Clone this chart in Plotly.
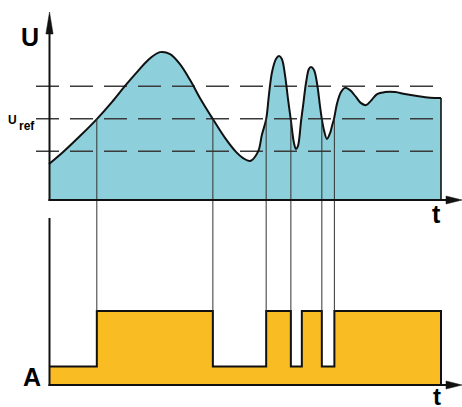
import plotly.graph_objects as go

# ---------------- data ----------------
t_curve = [0.0, 0.36, 0.79, 1.22, 1.61, 1.94, 2.25, 2.53, 2.83, 3.09, 3.34, 3.60, 3.85,
           4.18, 4.49, 4.77, 4.95, 5.13, 5.33, 5.43, 5.54, 5.61, 5.69, 5.79, 5.87, 5.94,
           6.02, 6.10, 6.17, 6.25, 6.30, 6.35, 6.43, 6.48, 6.56, 6.63, 6.68, 6.76, 6.84,
           6.91, 6.96, 7.02, 7.09, 7.17, 7.22, 7.27, 7.35, 7.45, 7.55, 7.68, 7.83, 7.96,
           8.09, 8.21, 8.37, 8.57, 8.83, 9.08, 9.39, 9.72, 10.0]
u_curve = [1.11, 1.48, 1.97, 2.49, 3.02, 3.51, 3.94, 4.31, 4.55, 4.49, 4.18, 3.69, 3.14,
           2.49, 1.91, 1.48, 1.29, 1.20, 1.48, 2.00, 2.49, 3.23, 3.94, 4.34, 4.43, 4.34,
           3.85, 3.08, 2.46, 1.75, 1.57, 1.66, 2.43, 2.89, 3.63, 4.03, 4.09, 4.00, 3.57,
           2.92, 2.49, 2.12, 1.88, 2.06, 2.28, 2.49, 2.98, 3.32, 3.45, 3.38, 3.17, 2.98,
           2.92, 3.05, 3.26, 3.32, 3.32, 3.26, 3.20, 3.15, 3.14]
u_levels = [1.5, 2.5, 3.5]
u_ref = 2.5
switch_times = [1.22, 4.18, 5.54, 6.17, 6.45, 6.96, 7.28]
a_values = [0.25, 1.0, 0.25, 1.0, 0.25, 1.0, 0.25, 1.0]
connector_times = [1.22, 4.18, 5.54, 6.17, 6.96, 7.28]
t_end = 10.0
a_high = 1.0

# ---------------- geometry / style ----------------
W, H = 462, 407
PX_T0, PX_PER_T = 49, 39.2
PX_U0, PX_PER_U = 200, 32.5
PX_A0, PX_PER_A = 385, 74
TOP_DOM_PX = (10, 206)
BOT_DOM_PX = (212, 391)
BLUE = "#8DCFDA"
YELLOW = "#F9BD23"
INK = "#111111"

def pxx(px):
    return px / W

def pxy(py):
    return 1 - py / H

def t2px(t):
    return PX_T0 + t * PX_PER_T

def u2py(u):
    return PX_U0 - u * PX_PER_U

def a2py(a):
    return PX_A0 - a * PX_PER_A

fig = go.Figure()

# top panel: fill
fig.add_trace(go.Scatter(x=t_curve, y=u_curve, mode="lines", line=dict(shape="spline", width=0, color=BLUE),
                         fill="tozeroy", fillcolor=BLUE, hoverinfo="skip", showlegend=False,
                         xaxis="x", yaxis="y"))
# dashed threshold lines
t_dash_start = (36 - PX_T0) / PX_PER_T
for lv in u_levels:
    fig.add_trace(go.Scatter(x=[t_dash_start, t_end], y=[lv, lv], mode="lines",
                             line=dict(color="#3a3a3a", width=1.5, dash="23px,11px"),
                             hoverinfo="skip", showlegend=False, xaxis="x", yaxis="y"))
# curve outline
fig.add_trace(go.Scatter(x=t_curve, y=u_curve, mode="lines", line=dict(shape="spline", width=2, color=INK),
                         hoverinfo="skip", showlegend=False, xaxis="x", yaxis="y"))
fig.add_trace(go.Scatter(x=[t_end, t_end], y=[u_curve[-1], 0], mode="lines", line=dict(width=1.6, color=INK),
                         hoverinfo="skip", showlegend=False, xaxis="x", yaxis="y"))

# bottom panel: step
step_x = [0.0] + switch_times + [t_end, t_end]
step_y = a_values + [a_values[-1], 0]
fig.add_trace(go.Scatter(x=step_x, y=step_y, mode="lines", line=dict(shape="hv", width=2, color=INK),
                         fill="tozeroy", fillcolor=YELLOW, hoverinfo="skip", showlegend=False,
                         xaxis="x2", yaxis="y2"))

shapes = []
# connectors
for tc in connector_times:
    shapes.append(dict(type="line", xref="x", yref="paper", x0=tc, x1=tc,
                       y0=pxy(u2py(u_ref)), y1=pxy(a2py(a_high)),
                       line=dict(color="#333333", width=1), layer="above"))

x_axis_px = t2px(0) + 0.5
# top y axis line + arrow
shapes.append(dict(type="line", xref="paper", yref="paper", x0=pxx(x_axis_px), x1=pxx(x_axis_px),
                   y0=pxy(u2py(0) + 1), y1=pxy(30), line=dict(color=INK, width=2)))
shapes.append(dict(type="path", xref="paper", yref="paper",
                   path=f"M {pxx(x_axis_px)} {pxy(12)} L {pxx(x_axis_px - 3.6)} {pxy(34)} "
                        f"L {pxx(x_axis_px + 3.6)} {pxy(34)} Z",
                   fillcolor=INK, line=dict(color=INK, width=0.5)))
# top x axis line + arrow
yb = u2py(0)
shapes.append(dict(type="line", xref="paper", yref="paper", x0=pxx(x_axis_px - 1), x1=pxx(449),
                   y0=pxy(yb), y1=pxy(yb), line=dict(color=INK, width=2)))
shapes.append(dict(type="path", xref="paper", yref="paper",
                   path=f"M {pxx(462)} {pxy(yb)} L {pxx(446)} {pxy(yb - 4)} L {pxx(446)} {pxy(yb + 4)} Z",
                   fillcolor=INK, line=dict(color=INK, width=0.5)))
# bottom y axis line
ya = a2py(0)
shapes.append(dict(type="line", xref="paper", yref="paper", x0=pxx(x_axis_px), x1=pxx(x_axis_px),
                   y0=pxy(ya + 1), y1=pxy(218), line=dict(color=INK, width=2)))
# bottom x axis line + arrow
shapes.append(dict(type="line", xref="paper", yref="paper", x0=pxx(x_axis_px - 1), x1=pxx(449),
                   y0=pxy(ya), y1=pxy(ya), line=dict(color=INK, width=2)))
shapes.append(dict(type="path", xref="paper", yref="paper",
                   path=f"M {pxx(462)} {pxy(ya)} L {pxx(446)} {pxy(ya - 4)} L {pxx(446)} {pxy(ya + 4)} Z",
                   fillcolor=INK, line=dict(color=INK, width=0.5)))

FONT = "Liberation Sans, Arial, sans-serif"
def label(text, px, py, size):
    return dict(text=f"<b>{text}</b>", x=pxx(px), y=pxy(py), xref="paper", yref="paper",
                xanchor="center", yanchor="middle", showarrow=False,
                font=dict(family=FONT, size=size, color="#000000"))

annotations = [
    label("U", 29.7, 36.5, 25),
    label("A", 32, 377, 25),
    label("t", 436.5, 214, 25),
    label("t", 436.5, 396, 24),
    label("U", 12.5, 120.5, 12),
    label("ref", 27, 125.5, 12),
]

fig.update_layout(
    width=W, height=H, autosize=False,
    margin=dict(l=0, r=0, t=0, b=0),
    paper_bgcolor="white", plot_bgcolor="white",
    showlegend=False,
    xaxis=dict(domain=[0, 1], range=[-PX_T0 / PX_PER_T, (W - PX_T0) / PX_PER_T], visible=False,
               fixedrange=True, anchor="y"),
    yaxis=dict(domain=[pxy(TOP_DOM_PX[1]), pxy(TOP_DOM_PX[0])],
               range=[(PX_U0 - TOP_DOM_PX[1]) / PX_PER_U, (PX_U0 - TOP_DOM_PX[0]) / PX_PER_U],
               visible=False, fixedrange=True, anchor="x"),
    xaxis2=dict(domain=[0, 1], matches="x", visible=False, fixedrange=True, anchor="y2"),
    yaxis2=dict(domain=[pxy(BOT_DOM_PX[1]), pxy(BOT_DOM_PX[0])],
                range=[(PX_A0 - BOT_DOM_PX[1]) / PX_PER_A, (PX_A0 - BOT_DOM_PX[0]) / PX_PER_A],
                visible=False, fixedrange=True, anchor="x2"),
    shapes=shapes,
    annotations=annotations,
)

fig.write_html("out.html", config={"displayModeBar": False, "staticPlot": True},
               post_script="document.body.style.margin='0';document.body.style.overflow='hidden';")
